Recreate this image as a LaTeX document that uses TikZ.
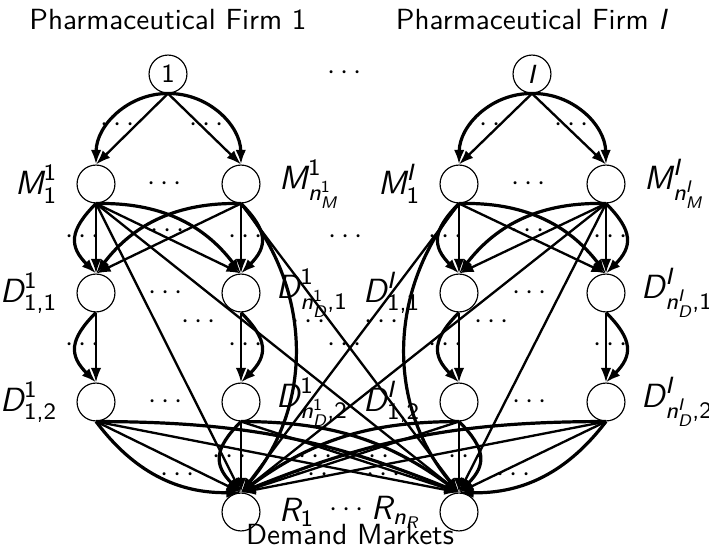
\documentclass[tikz,border=0pt]{standalone}
\usepackage{amsmath,amssymb}
\usepackage{tikz}
\usetikzlibrary{arrows.meta,positioning}
\newcommand{\vi}[1]{\textit{#1}}
\newcommand{\vn}[1]{\text{#1}}

\begin{document}
\begin{tikzpicture}[x=0.343pt,y=0.343pt,font=\sffamily,
  nd/.style={circle,draw,minimum size=13pt,inner sep=0pt,font=\small\sffamily},
  lab/.style={font=\fontsize{11.5}{13}\sffamily},
  lk/.style={thick,-{Latex[length=5pt,width=3.6pt]}},
  cv/.style={lk,line width=1.1pt}]
\useasboundingbox (0,0) rectangle (709,-547);
% firms and titles
\node (tit1) at (168,-20) {Pharmaceutical Firm 1}; \node (titI) at (532,-20) {Pharmaceutical Firm \vi{I}};
\node[nd] (f1) at (168,-74) {1}; \node[nd] (fI) at (532,-74) {\vi{I}};
\node (c0) at (347,-73) {$\cdots$};
% manufacturing plants
\node[nd] (m11) at (96,-184) {}; \node[nd] (m1n) at (241,-184) {};
\node[nd] (mI1) at (459,-184) {}; \node[nd] (mIn) at (606,-184) {};
\node[lab,left=3pt of m11] (lm11) {$\vi{M}^{\vn{1}}_{\vn{1}}$};
\node[lab,right=3pt of m1n] (lm1n) {$\vi{M}^{\vn{1}}_{\vi{n}^{\vn{1}}_{\vi{M}}}$};
\node[lab,left=3pt of mI1] (lmI1) {$\vi{M}^{\vi{I}}_{\vn{1}}$};
\node[lab,right=3pt of mIn] (lmIn) {$\vi{M}^{\vi{I}}_{\vi{n}^{\vi{I}}_{\vi{M}}}$};
% distribution centers
\node[nd] (d111) at (96,-293) {}; \node[nd] (d1n1) at (241,-293) {};
\node[nd] (dI11) at (459,-293) {}; \node[nd] (dIn1) at (606,-293) {};
\node[lab,left=3pt of d111] (ld111) {$\vi{D}^{\vn{1}}_{\vn{1,1}}$};
\node[lab,right=2pt of d1n1] (ld1n1) {$\vi{D}^{\vn{1}}_{\vi{n}^{\vn{1}}_{\vi{D}}\vn{,1}}$};
\node[lab,left=3pt of dI11] (ldI11) {$\vi{D}^{\vi{I}}_{\vn{1,1}}$};
\node[lab,right=2pt of dIn1] (ldIn1) {$\vi{D}^{\vi{I}}_{\vi{n}^{\vi{I}}_{\vi{D}}\vn{,1}}$};
% storage
\node[nd] (d112) at (96,-402) {}; \node[nd] (d1n2) at (241,-402) {};
\node[nd] (dI12) at (459,-402) {}; \node[nd] (dIn2) at (606,-402) {};
\node[lab,left=3pt of d112] (ld112) {$\vi{D}^{\vn{1}}_{\vn{1,2}}$};
\node[lab,right=2pt of d1n2] (ld1n2) {$\vi{D}^{\vn{1}}_{\vi{n}^{\vn{1}}_{\vi{D}}\vn{,2}}$};
\node[lab,left=3pt of dI12] (ldI12) {$\vi{D}^{\vi{I}}_{\vn{1,2}}$};
\node[lab,right=2pt of dIn2] (ldIn2) {$\vi{D}^{\vi{I}}_{\vi{n}^{\vi{I}}_{\vi{D}}\vn{,2}}$};
% demand markets
\node[nd] (r1) at (241,-512) {}; \node[nd] (rn) at (459,-512) {};
\node[lab,right=3pt of r1] (lr1) {$\vi{R}_{\vn{1}}$}; \node[lab,left=3pt of rn] (lrn) {$\vi{R}_{\vi{n}_{\vi{R}}}$};
\node (c1) at (349,-510) {$\cdots$};
\node (dm) at (350,-535) {Demand Markets};
% dots between links
\node (c2) at (120,-125) {$\cdots$}; \node (c3) at (209,-125) {$\cdots$};
\node (c4) at (486,-125) {$\cdots$}; \node (c5) at (574,-125) {$\cdots$};
\node (c6) at (167,-184) {$\cdots$}; \node (c7) at (531,-184) {$\cdots$};
\node (c8) at (85,-237) {$\cdots$}; \node (c9) at (170,-231) {$\cdots$}; \node (c10) at (248,-237) {$\cdots$};
\node (c11) at (348,-237) {$\cdots$};
\node (c12) at (448,-237) {$\cdots$}; \node (c13) at (530,-231) {$\cdots$}; \node (c14) at (613,-237) {$\cdots$};
\node (c15) at (168,-293) {$\cdots$}; \node (c16) at (532,-293) {$\cdots$};
\node (c17) at (201,-322) {$\cdots$}; \node (c18) at (311,-322) {$\cdots$};
\node (c19) at (384,-322) {$\cdots$}; \node (c20) at (494,-322) {$\cdots$};
\node (c21) at (85,-345) {$\cdots$}; \node (c22) at (248,-345) {$\cdots$}; \node (c23) at (347,-345) {$\cdots$};
\node (c24) at (448,-345) {$\cdots$}; \node (c25) at (613,-345) {$\cdots$};
\node (c26) at (168,-402) {$\cdots$}; \node (c27) at (532,-402) {$\cdots$};
\node (c28) at (232,-457) {$\cdots$}; \node (c29) at (318,-457) {$\cdots$};
\node (c30) at (375,-457) {$\cdots$}; \node (c31) at (468,-457) {$\cdots$};
\node (c32) at (180,-475) {$\cdots$}; \node (c33) at (314,-475) {$\cdots$};
\node (c34) at (386,-475) {$\cdots$}; \node (c35) at (516,-475) {$\cdots$};
% firm 1 links
\draw[lk] (f1.south) -- (m11.north); \draw[cv] (f1.south) to[bend right=45] (m11.north);
\draw[lk] (f1.south) -- (m1n.north); \draw[cv] (f1.south) to[bend left=45] (m1n.north);
\draw[lk] (m11.south) -- (d111.north); \draw[cv] (m11.south) to[bend right=45,looseness=1.4] (d111.north);
\draw[lk] (m11.south) -- (d1n1.north); \draw[cv] (m11.south) to[bend left=27] (d1n1.north);
\draw[lk] (m1n.south) -- (d111.north); \draw[cv] (m1n.south) to[bend right=27] (d111.north);
\draw[lk] (m1n.south) -- (d1n1.north); \draw[cv] (m1n.south) to[bend left=45,looseness=1.4] (d1n1.north);
\draw[lk] (d111.south) -- (d112.north); \draw[cv] (d111.south) to[bend right=45,looseness=1.4] (d112.north);
\draw[lk] (d1n1.south) -- (d1n2.north); \draw[cv] (d1n1.south) to[bend left=45,looseness=1.4] (d1n2.north);
\draw[lk] (d112.south) -- (r1.north); \draw[cv] (d112.south) to[bend right=27] (r1.north);
\draw[lk] (d112.south) -- (rn.north); \draw[cv] (d112.south) to[bend left=11] (rn.north);
\draw[lk] (d1n2.south) -- (r1.north); \draw[cv] (d1n2.south) to[bend right=45,looseness=1.4] (r1.north);
\draw[lk] (d1n2.south) -- (rn.north); \draw[cv] (d1n2.south) to[bend left=18] (rn.north);
\draw[lk] (m11.south) -- (r1.north); \draw[lk] (m11.south) -- (rn.north);
\draw[cv] (m1n.south) to[bend left=40] (r1.north); \draw[lk] (m1n.south) -- (rn.north);
% firm I links
\draw[lk] (fI.south) -- (mI1.north); \draw[cv] (fI.south) to[bend right=45] (mI1.north);
\draw[lk] (fI.south) -- (mIn.north); \draw[cv] (fI.south) to[bend left=45] (mIn.north);
\draw[lk] (mI1.south) -- (dI11.north); \draw[cv] (mI1.south) to[bend right=45,looseness=1.4] (dI11.north);
\draw[lk] (mI1.south) -- (dIn1.north); \draw[cv] (mI1.south) to[bend left=27] (dIn1.north);
\draw[lk] (mIn.south) -- (dI11.north); \draw[cv] (mIn.south) to[bend right=27] (dI11.north);
\draw[lk] (mIn.south) -- (dIn1.north); \draw[cv] (mIn.south) to[bend left=45,looseness=1.4] (dIn1.north);
\draw[lk] (dI11.south) -- (dI12.north); \draw[cv] (dI11.south) to[bend right=45,looseness=1.4] (dI12.north);
\draw[lk] (dIn1.south) -- (dIn2.north); \draw[cv] (dIn1.south) to[bend left=45,looseness=1.4] (dIn2.north);
\draw[lk] (dIn2.south) -- (rn.north); \draw[cv] (dIn2.south) to[bend left=27] (rn.north);
\draw[lk] (dIn2.south) -- (r1.north); \draw[cv] (dIn2.south) to[bend right=11] (r1.north);
\draw[lk] (dI12.south) -- (rn.north); \draw[cv] (dI12.south) to[bend left=45,looseness=1.4] (rn.north);
\draw[lk] (dI12.south) -- (r1.north); \draw[cv] (dI12.south) to[bend right=18] (r1.north);
\draw[lk] (mIn.south) -- (rn.north); \draw[lk] (mIn.south) -- (r1.north);
\draw[cv] (mI1.south) to[bend right=40] (rn.north); \draw[lk] (mI1.south) -- (r1.north);
\end{tikzpicture}
\end{document}
